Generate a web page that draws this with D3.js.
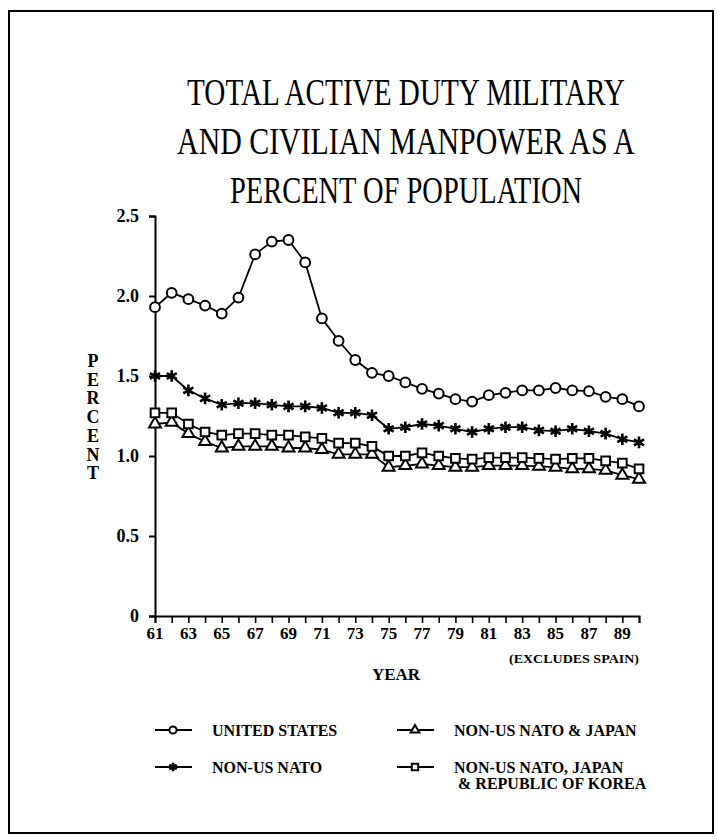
<!DOCTYPE html>
<html>
<head>
<meta charset="utf-8">
<script src="https://cdn.jsdelivr.net/npm/d3@7"></script>
<style>
  body { margin: 0; background: #fff; }
  text { font-family: "Liberation Serif", "Times New Roman", serif; fill: #000; }
</style>
</head>
<body>
<div id="chart"></div>
<script>
/*------------------------------------------*/
/*            Data                          */
/*------------------------------------------*/

var years = [61, 62, 63, 64, 65, 66, 67, 68, 69, 70, 71, 72, 73, 74, 75,
             76, 77, 78, 79, 80, 81, 82, 83, 84, 85, 86, 87, 88, 89, 90];

var unitedStates = [1.93, 2.02, 1.98, 1.94, 1.89, 1.99, 2.26, 2.34, 2.35, 2.21,
                    1.86, 1.72, 1.60, 1.52, 1.50, 1.46, 1.42, 1.39, 1.355, 1.34,
                    1.38, 1.395, 1.41, 1.41, 1.425, 1.41, 1.405, 1.37, 1.355, 1.31];

var nonUsNato = [1.50, 1.50, 1.41, 1.36, 1.32, 1.33, 1.33, 1.32, 1.31, 1.31,
                 1.30, 1.27, 1.27, 1.255, 1.17, 1.18, 1.20, 1.19, 1.17, 1.15,
                 1.17, 1.18, 1.18, 1.16, 1.155, 1.17, 1.155, 1.14, 1.105, 1.085];

var natoJapan = [1.20, 1.21, 1.14, 1.09, 1.05, 1.06, 1.06, 1.06, 1.05, 1.05,
                 1.04, 1.01, 1.01, 1.01, 0.93, 0.94, 0.95, 0.94, 0.93, 0.93,
                 0.94, 0.94, 0.94, 0.935, 0.93, 0.92, 0.92, 0.91, 0.88, 0.855];

var natoJapanKorea = [1.27, 1.27, 1.20, 1.15, 1.13, 1.14, 1.14, 1.13, 1.13, 1.12,
                      1.11, 1.08, 1.08, 1.06, 1.00, 1.00, 1.02, 1.00, 0.985, 0.98,
                      0.99, 0.99, 0.99, 0.985, 0.98, 0.985, 0.985, 0.97, 0.955, 0.92];

var yTicks = [0, 0.5, 1.0, 1.5, 2.0, 2.5],
    yTickLabels = ["0", "0.5", "1.0", "1.5", "2.0", "2.5"];

var xLabelYears = [61, 63, 65, 67, 69, 71, 73, 75, 77, 79, 81, 83, 85, 87, 89];

var titleLines = ["TOTAL ACTIVE DUTY MILITARY",
                  "AND CIVILIAN MANPOWER AS A",
                  "PERCENT OF POPULATION"];

/*------------------------------------------*/
/*            Constants                     */
/*------------------------------------------*/

var W = 717, H = 840;

var plot = { left: 155, right: 639, top: 216, bottom: 616 };

var series = [
  { name: "UNITED STATES", values: unitedStates, symbol: d3.symbolCircle, size: 75 },
  { name: "NON-US NATO", values: nonUsNato, symbol: d3.symbolAsterisk, size: 95 },
  { name: "NON-US NATO & JAPAN", values: natoJapan, symbol: d3.symbolTriangle, size: 62 },
  { name: "NON-US NATO, JAPAN", values: natoJapanKorea, symbol: d3.symbolSquare, size: 75 }
];

/*------------------------------------------*/
/*            Initiate the SVG              */
/*------------------------------------------*/

var svg = d3.select("#chart").append("svg")
    .attr("width", W)
    .attr("height", H);

svg.append("rect")
    .attr("x", 9).attr("y", 11)
    .attr("width", 704).attr("height", 822)
    .attr("fill", "none")
    .attr("stroke", "#000")
    .attr("stroke-width", 2);

var x = d3.scaleLinear().domain([61, 90]).range([plot.left, plot.right]),
    y = d3.scaleLinear().domain([0, 2.5]).range([plot.bottom, plot.top]);

/*------------------------------------------*/
/*            Title                         */
/*------------------------------------------*/

// the scanned typeface is narrower than Times, so squeeze each line sideways
var titleWidths = [438, 458, 352];

svg.selectAll("text.title")
    .data(titleLines)
    .enter().append("text")
    .attr("class", "title")
    .attr("text-anchor", "middle")
    .attr("font-size", "37px")
    .text(function(d) { return d; })
    .attr("transform", function(d, i) {
      var k = titleWidths[i] / this.getComputedTextLength();
      return "translate(406," + (105 + i * 49) + ") scale(" + k + ",1)";
    });

/*------------------------------------------*/
/*            Axes                          */
/*------------------------------------------*/

var yAxis = svg.append("g")
    .attr("transform", "translate(" + plot.left + ",0)")
    .call(d3.axisLeft(y).tickValues(yTicks).tickSize(6)
      .tickFormat(function(d, i) { return yTickLabels[i]; }));

yAxis.select(".domain").attr("stroke-width", 2);
yAxis.selectAll(".tick line").attr("stroke-width", 2);
yAxis.selectAll(".tick text")
    .attr("x", -16)
    .attr("font-family", "Liberation Serif")
    .attr("font-weight", "bold")
    .attr("font-size", "18px");

var xAxis = svg.append("g")
    .attr("transform", "translate(0," + plot.bottom + ")")
    .call(d3.axisBottom(x).tickValues(years).tickSize(7).tickFormat(""));

xAxis.select(".domain").attr("stroke-width", 2);
xAxis.selectAll(".tick line").attr("stroke-width", 1.6);

svg.append("g")
    .selectAll("text")
    .data(xLabelYears)
    .enter().append("text")
    .attr("x", function(d) { return x(d); })
    .attr("y", plot.bottom + 23)
    .attr("text-anchor", "middle")
    .attr("font-weight", "bold")
    .attr("font-size", "17px")
    .text(function(d) { return d; });

svg.append("text")
    .attr("x", plot.right)
    .attr("y", 663)
    .attr("text-anchor", "end")
    .attr("font-weight", "bold")
    .attr("font-size", "12px")
    .attr("textLength", 130)
    .attr("lengthAdjust", "spacingAndGlyphs")
    .text("(EXCLUDES SPAIN)");

svg.append("text")
    .attr("x", 396)
    .attr("y", 680)
    .attr("text-anchor", "middle")
    .attr("font-weight", "bold")
    .attr("font-size", "17px")
    .text("YEAR");

svg.append("g")
    .selectAll("text")
    .data("PERCENT".split(""))
    .enter().append("text")
    .attr("x", 93)
    .attr("y", function(d, i) { return 367 + i * 18.7; })
    .attr("text-anchor", "middle")
    .attr("font-weight", "bold")
    .attr("font-size", "18px")
    .text(function(d) { return d; });

/*------------------------------------------*/
/*            Lines & markers               */
/*------------------------------------------*/

var line = d3.line()
    .x(function(d, i) { return x(years[i]); })
    .y(function(d) { return y(d); });

function drawMarker(sel, s, sizeScale) {
  var path = d3.symbol().type(s.symbol).size(s.size * sizeScale)();
  if (s.symbol === d3.symbolAsterisk) {
    sel.append("path").attr("d", path)
        .attr("fill", "none").attr("stroke", "#000").attr("stroke-width", 2.6);
    sel.append("circle").attr("r", 2.8 * Math.sqrt(sizeScale)).attr("fill", "#000");
  } else {
    sel.append("path").attr("d", path)
        .attr("fill", "#fff").attr("stroke", "#000").attr("stroke-width", 2);
  }
}

var seriesG = svg.append("g").selectAll("g")
    .data(series)
    .enter().append("g");

seriesG.append("path")
    .attr("d", function(d) { return line(d.values); })
    .attr("fill", "none")
    .attr("stroke", "#000")
    .attr("stroke-width", 1.8);

seriesG.each(function(s) {
  d3.select(this).selectAll("g.pt")
      .data(s.values)
      .enter().append("g")
      .attr("class", "pt")
      .attr("transform", function(d, i) { return "translate(" + x(years[i]) + "," + y(d) + ")"; })
      .each(function() { drawMarker(d3.select(this), s, 1); });
});

/*------------------------------------------*/
/*            Legend                        */
/*------------------------------------------*/

var legendPos = [[173, 730], [173, 767], [415, 730], [415, 767]];

series.forEach(function(s, i) {
  var g = svg.append("g")
      .attr("transform", "translate(" + legendPos[i][0] + "," + legendPos[i][1] + ")");
  g.append("line")
      .attr("x1", -18).attr("x2", 19)
      .attr("stroke", "#000").attr("stroke-width", 2);
  drawMarker(g, s, 0.55);
  g.append("text")
      .attr("x", 39)
      .attr("y", 6)
      .attr("font-weight", "bold")
      .attr("font-size", "16px")
      .text(s.name);
  if (i === 3) {
    g.append("text")
        .attr("x", 43)
        .attr("y", 22)
        .attr("font-weight", "bold")
        .attr("font-size", "16px")
        .text("& REPUBLIC OF KOREA");
  }
});
</script>
</body>
</html>
